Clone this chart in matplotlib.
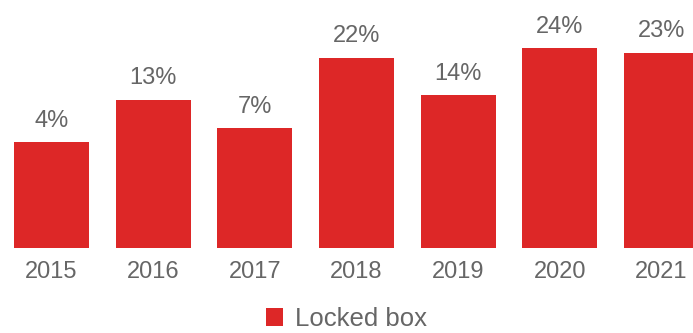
import matplotlib
matplotlib.use("Agg")
import matplotlib.pyplot as plt
from matplotlib.patches import Patch

years = ["2015", "2016", "2017", "2018", "2019", "2020", "2021"]
values = [4, 13, 7, 22, 14, 24, 23]
labels = ["4%", "13%", "7%", "22%", "14%", "24%", "23%"]
series_name = "Locked box"

RED = "#DD2727"
GREY = "#666666"
BASE = -18.5

plt.rcParams['font.family'] = ['Liberation Sans', 'DejaVu Sans']

W, H = 693, 333
fig = plt.figure(figsize=(W / 100, H / 100), dpi=100)
bottom_px = 85
ax = fig.add_axes([0, bottom_px / H, 1, (H - bottom_px) / H])

x = list(range(len(years)))
heights = [v - BASE for v in values]
bars = ax.bar(x, heights, bottom=BASE, width=0.737, color=RED)

for xi, v, lab in zip(x, values, labels):
    ax.annotate(lab, (xi, v), xytext=(0, 11.2), textcoords="offset points",
                ha="center", va="baseline", fontsize=17, color=GREY)

ax.set_xlim(-0.5066, 6.310)
ax.set_ylim(BASE, BASE + (H - bottom_px) / 4.7)
ax.set_xticks(x)
ax.set_xticklabels(years, fontsize=17, color=GREY)
ax.tick_params(axis="x", length=0, pad=9.0)
ax.set_yticks([])
for s in ax.spines.values():
    s.set_visible(False)

handle = Patch(facecolor=RED, edgecolor="none")
fig.legend([handle], [series_name], loc="center", bbox_to_anchor=(0.5, 14 / H),
           frameon=False, fontsize=18.5, labelcolor=GREY,
           handlelength=0.66, handleheight=0.66, handletextpad=0.5,
           borderpad=0, borderaxespad=0)

fig.savefig("out.png", dpi=100)
